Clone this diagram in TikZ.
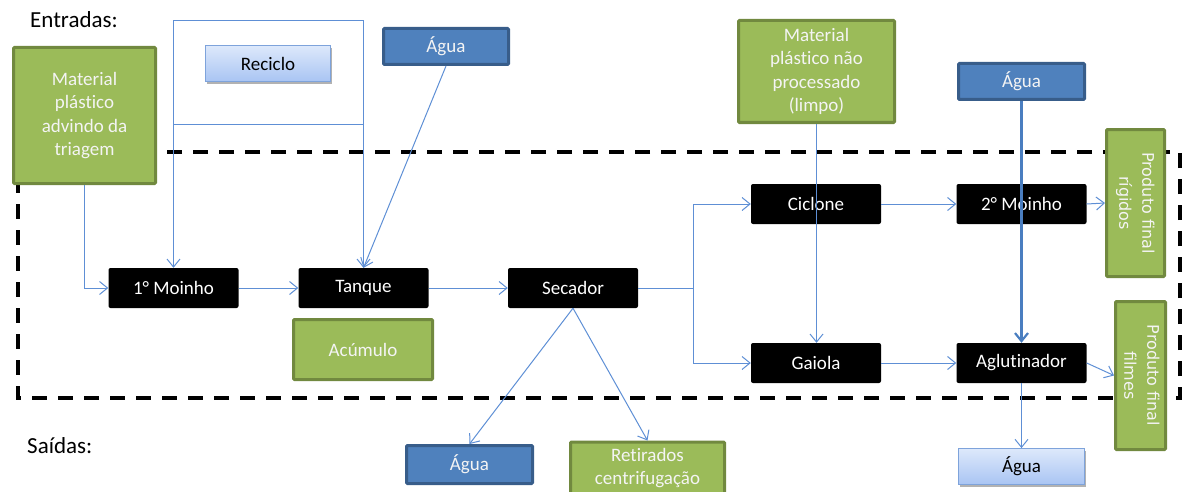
\documentclass[tikz,border=0pt]{standalone}
\usepackage{fontspec}
\setmainfont{Carlito}[Ligatures=NoCommon]
\newfontfamily\verdfont{DejaVu Sans}
\usetikzlibrary{arrows.meta,shadows}

\definecolor{leafgreen}{HTML}{9BBB59}
\definecolor{leafedge}{HTML}{71893F}
\definecolor{waterblue}{HTML}{4F81BD}
\definecolor{wateredge}{HTML}{385D8A}
\definecolor{flowline}{HTML}{5E8FD5}
\definecolor{waterflow}{HTML}{4A7EC0}
\definecolor{paletop}{HTML}{DDE8FB}
\definecolor{palebot}{HTML}{A9C5F3}
\definecolor{paleedge}{HTML}{7EA3DB}
\definecolor{boxtext}{HTML}{F4F4F4}

\newcommand{\sidelabel}[2]{\rotatebox{-90}{\verdfont\fontsize{16}{23}\selectfont\begin{tabular}{@{}c@{}}#1\\#2\end{tabular}}}

\tikzset{
  base/.style={font=\fontsize{19}{23.5}\selectfont, align=center, inner sep=2pt},
  greenbox/.style={base, fill=leafgreen, draw=leafedge, line width=3pt, text=boxtext, rounded corners=1pt},
  bluebox/.style={base, fill=waterblue, draw=wateredge, line width=3pt, text=boxtext, rounded corners=1pt},
  procbox/.style={base, fill=black, text=white, rounded corners=2pt, minimum width=130pt, minimum height=40pt},
  palebox/.style={base, top color=paletop, bottom color=palebot, draw=paleedge, line width=0.8pt, text=black,
    drop shadow={shadow xshift=1.5pt, shadow yshift=-2.5pt, fill=black, opacity=0.3}},
  flow/.style={draw=flowline, line width=1pt},
  arr/.style={flow, -{Straight Barb[length=8pt,width=13pt]}},
  waterarr/.style={draw=waterflow, line width=2.2pt, -{Straight Barb[length=8pt,width=13pt]}},
  boundary/.style={draw=black, line width=4pt, dash pattern=on 15pt off 11pt},
  heading/.style={font=\fontsize{23}{27}\selectfont, anchor=west, inner sep=0pt},
}

\begin{document}
\begin{tikzpicture}[x=1pt, y=-1pt]
\useasboundingbox (0,0) rectangle (1182,492);
\clip (0,0) rectangle (1182,492);

% system boundary
\draw[boundary] (18,152) rectangle (1180,398);

% headings
\node[heading] (inhead) at (30,20) {Entradas:};
\node[heading] (outhead) at (27,446) {Saídas:};

% inputs
\node[greenbox, minimum width=142pt, minimum height=136pt] (sort) at (84.5,115.5) {Material\\plástico\\advindo da\\triagem};
\node[palebox, minimum width=125pt, minimum height=36pt] (recycle) at (268,63.5) {Reciclo};
\node[bluebox, minimum width=125pt, minimum height=36pt] (waterA) at (446,46.5) {Água};
\node[greenbox, minimum width=156pt, minimum height=102pt] (clean) at (816.5,71.5) {Material\\plástico não\\processado\\(limpo)};
\node[bluebox, minimum width=126pt, minimum height=36pt] (waterB) at (1021.5,81.5) {Água};

% process steps
\node[procbox] (mill1) at (173.5,288) {1° Moinho};
\node[procbox] (tank) at (363.5,288) {Tanque};
\node[procbox] (dryer) at (573,288) {Secador};
\node[greenbox, minimum width=139pt, minimum height=60pt] (accum) at (363,349.5) {Acúmulo};
\node[procbox] (cyclone) at (816,204) {Ciclone};
\node[procbox] (mill2) at (1021.5,204) {2° Moinho};
\node[procbox] (cage) at (816,363) {Gaiola};
\node[procbox] (agglut) at (1021.5,363) {Aglutinador};

% final products
\node[greenbox, minimum width=58pt, minimum height=147pt] (rigid) at (1135.5,203) {\sidelabel{Produto final}{rígidos}};
\node[greenbox, minimum width=49pt, minimum height=148pt] (film) at (1140.5,375.5) {\sidelabel{Produto final}{filmes}};

% outputs
\node[bluebox, minimum width=126pt, minimum height=38pt] (waterC) at (469.5,464.5) {Água};
\node[greenbox, minimum width=154pt, minimum height=52pt] (spun) at (647.5,468) {Retirados\\centrifugação};
\node[palebox, minimum width=126pt, minimum height=36pt] (waterD) at (1021.5,466.5) {Água};

% recycling loop around the Reciclo label
\coordinate (rowlid) at (0,21);
\coordinate (rowtop) at (0,124);
\draw[flow] (mill1.north |- rowtop) -- (mill1.north |- rowlid) -- (tank.north |- rowlid) -- (tank.north |- rowtop) -- cycle;
\draw[arr] (mill1.north |- rowtop) -- (mill1.north);
\draw[arr] (tank.north |- rowtop) -- (tank.north);

% main line
\draw[arr] (sort.south) |- (mill1.west);
\draw[arr] (waterA.south) -- (tank.north);
\draw[arr] (mill1.east) -- (tank.west);
\draw[arr] (tank.east) -- (dryer.west);
\coordinate (fork) at (693,288);
\draw[flow] (dryer.east) -- (fork);
\draw[arr] (fork) |- (cyclone.west);
\draw[arr] (fork) |- (cage.west);
\draw[arr] (clean.south) -- (clean.south |- cage.north);
\draw[waterarr] (waterB.south) -- (waterB.south |- agglut.north);
\draw[arr] (cyclone.east) -- (mill2.west);
\draw[arr] (mill2.east) -- (rigid.west);
\draw[arr] (cage.east) -- (agglut.west);
\draw[arr] (agglut.east) -- (film.west);
\draw[arr] (agglut.south) -- (waterD.north);
\draw[arr] (dryer.south) -- (waterC.north);
\draw[arr] (dryer.south) -- (spun.north);
\end{tikzpicture}
\end{document}
